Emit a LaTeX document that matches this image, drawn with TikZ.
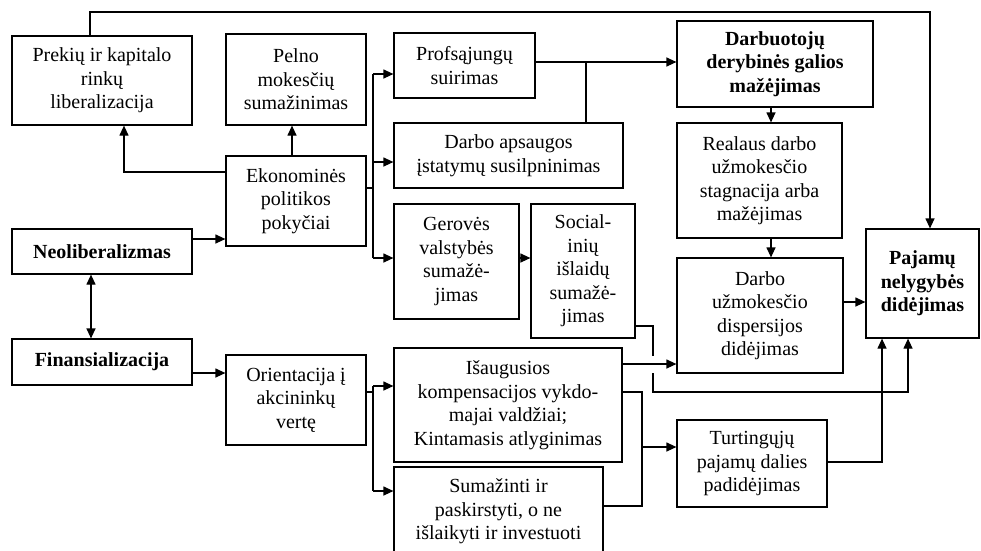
\documentclass[tikz,border=0pt]{standalone}
\usepackage{fontspec}
\setmainfont{Liberation Serif}
\usetikzlibrary{arrows.meta}
\newcommand{\dfont}{\fontsize{20}{23.5}\selectfont}
\tikzset{
  box/.style={draw, line width=1.2pt, inner sep=1pt, align=center, font=\dfont},
  bbox/.style={box, font=\dfont\bfseries},
  conn/.style={line width=1.2pt},
  arr/.style={conn, -{Triangle[length=10pt,width=9pt]}},
  arrboth/.style={conn, {Triangle[length=10pt,width=9pt]}-{Triangle[length=10pt,width=9pt]}}
}
\begin{document}
\begin{tikzpicture}[x=1pt,y=-1pt]
\useasboundingbox (0,0) rectangle (981,550);
\clip (0,0) rectangle (981,550);
% boxes
\node[box, minimum width=180pt, minimum height=89pt] (prek) at (102,80.5) {Prekių ir kapitalo\\rinkų\\liberalizacija};
\node[box, minimum width=140pt, minimum height=91pt] (pelno) at (296,79.5) {Pelno\\mokesčių\\sumažinimas};
\node[box, minimum width=140pt, minimum height=90pt] (ekon) at (296,201) {Ekonominės\\politikos\\pokyčiai};
\node[bbox, minimum width=180pt, minimum height=45pt] (neo) at (102,251.5) {Neoliberalizmas};
\node[bbox, minimum width=180pt, minimum height=46pt] (fin) at (102,362) {Finansializacija};
\node[box, minimum width=140pt, minimum height=90pt] (orient) at (296,400) {Orientacija į\\akcininkų\\vertę};
\node[box, minimum width=141pt, minimum height=65pt] (profs) at (464.5,65.5) {Profsąjungų\\suirimas};
\node[box, minimum width=229pt, minimum height=65pt] (darbap) at (508.5,155.5) {Darbo apsaugos\\įstatymų susilpninimas};
\node[box, minimum width=125pt, minimum height=115pt] (gerov) at (456.5,261.5) {Gerovės\\valstybės\\sumažė-\\jimas};
\node[box, minimum width=104pt, minimum height=134pt] (soc) at (583,271) {Social-\\inių\\išlaidų\\sumažė-\\jimas};
\node[box, minimum width=228pt, minimum height=114pt] (isaug) at (508,405) {Išaugusios\\kompensacijos vykdo-\\majai valdžiai;\\Kintamasis atlyginimas};
\node[box, minimum width=209pt, minimum height=89pt] (suma) at (498.5,511.5) {Sumažinti ir\\paskirstyti, o ne\\išlaikyti ir investuoti};
\node[bbox, minimum width=196pt, minimum height=86pt] (darbuot) at (775,64) {Darbuotojų\\derybinės galios\\mažėjimas};
\node[box, minimum width=165pt, minimum height=115pt] (realaus) at (759.5,180.5) {Realaus darbo\\užmokesčio\\stagnacija arba\\mažėjimas};
\node[box, minimum width=166pt, minimum height=115pt] (disp) at (760,315.5) {Darbo\\užmokesčio\\dispersijos\\didėjimas};
\node[box, minimum width=150pt, minimum height=87pt] (turt) at (752,463.5) {Turtingųjų\\pajamų dalies\\padidėjimas};
\node[bbox, minimum width=113pt, minimum height=109pt] (paj) at (922.5,283.5) {Pajamų\\nelygybės\\didėjimas};
% helper coordinates
\coordinate (t1) at (90,12);
\coordinate (t2) at (930,12);
\coordinate (e1) at (124,172);
\coordinate (e2) at (292,140);
\coordinate (b1) at (373,188);
\coordinate (ba) at (373,74);
\coordinate (bb) at (373,162);
\coordinate (bc) at (373,258);
\coordinate (n1) at (200,239);
\coordinate (n2) at (91,300);
\coordinate (f1) at (200,373);
\coordinate (o1) at (373,392);
\coordinate (oa) at (373,386);
\coordinate (ob) at (373,491);
\coordinate (p1) at (586,62);
\coordinate (r1) at (771,115);
\coordinate (d1) at (850,302);
\coordinate (g1) at (525,258);
\coordinate (s1) at (653,326);
\coordinate (s2) at (653,356);
\coordinate (s3) at (653,373);
\coordinate (s4) at (653,392);
\coordinate (s5) at (908,392);
\coordinate (i1) at (650,364);
\coordinate (i2) at (642,392);
\coordinate (i3) at (642,506);
\coordinate (i4) at (642,447);
\coordinate (u1) at (882,462);
% connectors
\draw[arr] (t1 |- prek.north) -- (t1) -- (t2) -- (t2 |- paj.north);
\draw[arr] (e1 -| ekon.west) -- (e1) -- (e1 |- prek.south);
\draw[arr] (e2 |- ekon.north) -- (e2 |- pelno.south);
\draw[conn] (b1 -| ekon.east) -- (b1);
\draw[conn] (ba) -- (bc);
\draw[arr] (ba) -- (ba -| profs.west);
\draw[arr] (bb) -- (bb -| darbap.west);
\draw[arr] (bc) -- (bc -| gerov.west);
\draw[arr] (n1 -| neo.east) -- (n1 -| ekon.west);
\draw[arrboth] (n2 |- neo.south) -- (n2 |- fin.north);
\draw[arr] (f1 -| fin.east) -- (f1 -| orient.west);
\draw[conn] (o1 -| orient.east) -- (o1);
\draw[conn] (oa) -- (ob);
\draw[arr] (oa) -- (oa -| isaug.west);
\draw[arr] (ob) -- (ob -| suma.west);
\draw[arr] (p1 -| profs.east) -- (p1 -| darbuot.west);
\draw[conn] (p1) -- (p1 |- darbap.north);
\draw[arr] (r1 |- darbuot.south) -- (r1 |- realaus.north);
\draw[arr] (r1 |- realaus.south) -- (r1 |- disp.north);
\draw[arr] (d1 -| disp.east) -- (d1 -| paj.west);
\draw[arr] (g1 -| gerov.east) -- (g1 -| soc.west);
\draw[conn] (s1 -| soc.east) -- (s1) -- (s2);
\draw[arr] (s3) -- (s4) -- (s5) -- (s5 |- paj.south);
\draw[arr] (i1 -| isaug.east) -- (i1 -| disp.west);
\draw[conn] (i2 -| isaug.east) -- (i2) -- (i3) -- (i3 -| suma.east);
\draw[arr] (i4) -- (i4 -| turt.west);
\draw[arr] (u1 -| turt.east) -- (u1) -- (u1 |- paj.south);
\end{tikzpicture}
\end{document}
